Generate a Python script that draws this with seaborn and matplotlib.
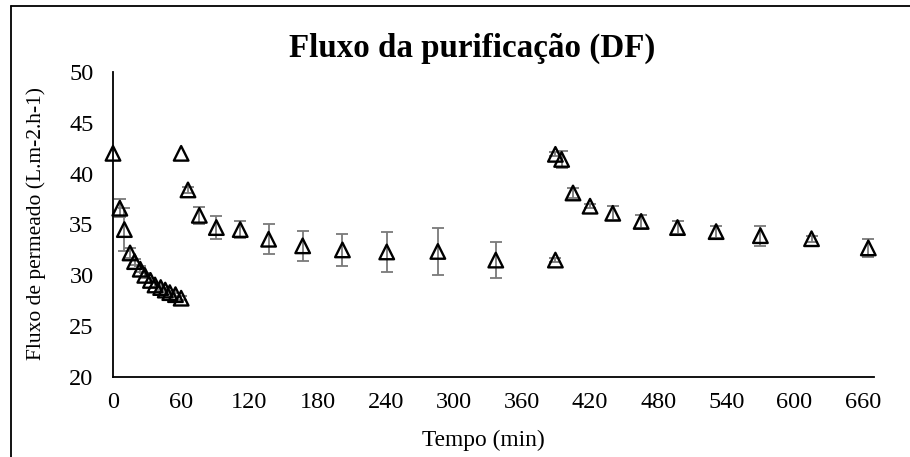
import numpy as np
import pandas as pd
import matplotlib
matplotlib.use("Agg")
import matplotlib.pyplot as plt
from matplotlib.lines import Line2D
import seaborn as sns

# ---- data ----
tempo = [0, 6, 10, 15, 19, 24, 28, 33, 37, 42, 46, 50, 55, 60,
         60, 66, 76, 91, 112, 137, 167, 202, 241, 286, 337,
         389.5, 389.5, 395, 405, 420, 440, 465, 497, 531, 570, 615, 665]
fluxo = [42.0, 36.6, 34.5, 32.2, 31.35, 30.6, 30.0, 29.5, 29.05, 28.8, 28.55, 28.3, 28.1, 27.75,
         42.0, 38.4, 35.9, 34.7, 34.5, 33.55, 32.9, 32.5, 32.3, 32.35, 31.5,
         31.5, 41.9, 41.4, 38.1, 36.8, 36.1, 35.3, 34.7, 34.3, 33.9, 33.6, 32.7]
erro = [0.0, 0.9, 2.1, 0.5, 0.3, 0.3, 0.25, 0.25, 0.2, 0.2, 0.2, 0.2, 0.2, 0.2,
        0.0, 0.3, 0.85, 1.1, 0.85, 1.5, 1.5, 1.6, 1.95, 2.35, 1.8,
        0.2, 0.2, 0.8, 0.5, 0.2, 0.7, 0.6, 0.6, 0.6, 1.0, 0.3, 0.85]
xticks = [0, 60, 120, 180, 240, 300, 360, 420, 480, 540, 600, 660]
yticks = [20, 25, 30, 35, 40, 45, 50]

df = pd.DataFrame({"Tempo": tempo, "Fluxo": fluxo, "Erro": erro})

sns.set_style("white")
plt.rcParams["font.family"] = ["Liberation Serif", "DejaVu Serif"]

fig = plt.figure(figsize=(9.1, 4.57), dpi=100)
ax = fig.add_axes([113 / 910, 1 - 377 / 457, (874 - 113) / 910, (377 - 72) / 457])

# error bars
m = df["Erro"] > 0
ax.errorbar(df.loc[m, "Tempo"], df.loc[m, "Fluxo"], yerr=df.loc[m, "Erro"],
            fmt="none", ecolor="#7a7a7a", elinewidth=1.3, capsize=4.3,
            capthick=1.3, zorder=2, clip_on=False)

# markers
sns.scatterplot(data=df, x="Tempo", y="Fluxo", marker="^", s=110,
                color="black", edgecolor="black", linewidth=1.7,
                ax=ax, zorder=3, clip_on=False, legend=False)
for c in ax.collections:
    if hasattr(c, "get_offsets") and len(c.get_offsets()) == len(df):
        c.set_facecolor("none")
        c.set_edgecolor("black")

ax.set_xlim(0, 670)
ax.set_ylim(20, 50)
ax.set_xticks(xticks)
ax.set_yticks(yticks)
ax.set_xlabel("")
ax.set_ylabel("")

for s in ["top", "right"]:
    ax.spines[s].set_visible(False)
for s in ["left", "bottom"]:
    ax.spines[s].set_color("black")
    ax.spines[s].set_linewidth(1.3)

ax.tick_params(axis="x", direction="in", length=6, width=1.3, color="black",
               labelsize=17.5, pad=11, labelcolor="black")
ax.tick_params(axis="y", direction="inout", length=12, width=1.3, color="black",
               labelsize=17.5, pad=8, labelcolor="black")

fig.text(0.519, 1 - 48 / 457, "Fluxo da purificação (DF)", ha="center", va="center",
         fontsize=23.8, fontweight="bold", color="black")
fig.text(0.531, 1 - 440 / 457, "Tempo (min)", ha="center", va="center",
         fontsize=16.8, color="black")
fig.text(36 / 910, 1 - 223 / 457, "Fluxo de permeado (L.m-2.h-1)", ha="center",
         va="center", rotation=90, fontsize=15.5, color="black")

# outer frame (left and top edges visible)
fig.add_artist(Line2D([11 / 910, 11 / 910], [0, 1 - 6 / 457], color="black", lw=1.3,
                      transform=fig.transFigure))
fig.add_artist(Line2D([11 / 910, 1], [1 - 6 / 457, 1 - 6 / 457], color="black", lw=1.3,
                      transform=fig.transFigure))

fig.savefig("out.png", dpi=100)
